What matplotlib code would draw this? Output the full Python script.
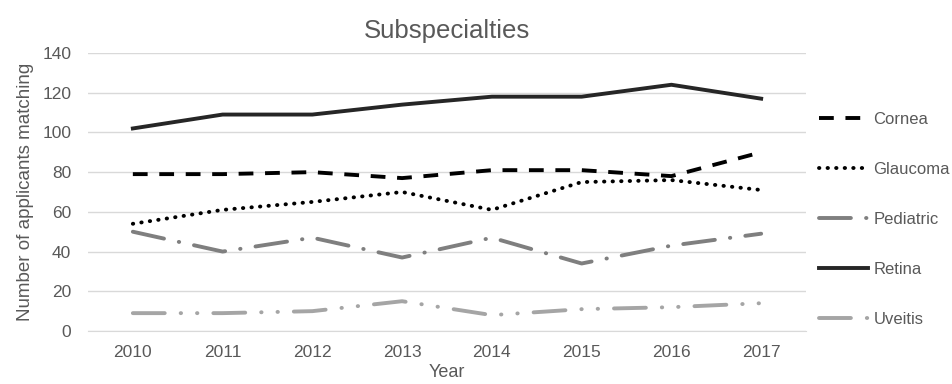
import matplotlib
matplotlib.use("Agg")
import matplotlib.pyplot as plt
import numpy as np

plt.rcParams["font.family"] = ["Liberation Sans", "DejaVu Sans"]

years = ["2010", "2011", "2012", "2013", "2014", "2015", "2016", "2017"]
cornea = [79, 79, 80, 77, 81, 81, 78, 90]
glaucoma = [54, 61, 65, 70, 61, 75, 76, 71]
pediatric = [50, 40, 47, 37, 47, 34, 43, 49]
retina = [102, 109, 109, 114, 118, 118, 124, 117]
uveitis = [9, 9, 10, 15, 8, 11, 12, 14]

TXT = "#595959"

fig = plt.figure(figsize=(9.53, 3.84), dpi=100)
ax = fig.add_axes([0.0923, 0.138, 0.7535, 0.724])

x = np.arange(len(years))
lw = 2.8
ax.plot(x, cornea, color="black", lw=lw, dashes=(3.8, 3.0), label="Cornea")
ax.plot(x, glaucoma, color="black", lw=lw, dashes=(0.1, 2.1),
        dash_capstyle="round", label="Glaucoma")
ax.plot(x, pediatric, color="#7f7f7f", lw=lw, dashes=(8.2, 3.9, 0.1, 3.9),
        dash_capstyle="round", label="Pediatric")
ax.plot(x, retina, color="#262626", lw=lw, label="Retina")
ax.plot(x, uveitis, color="#a5a5a5", lw=lw, dashes=(8.2, 4.1, 0.1, 4.1, 0.1, 4.1),
        dash_capstyle="round", label="Uveitis")

ax.set_xlim(-0.5, len(years) - 0.5)
ax.set_ylim(0, 140)
ax.set_yticks(range(0, 141, 20))
ax.set_xticks(x)
ax.set_xticklabels(years)
ax.grid(axis="y", color="#d9d9d9", lw=1)
ax.set_axisbelow(True)
for s in ["top", "right", "left"]:
    ax.spines[s].set_visible(False)
ax.spines["bottom"].set_color("#d9d9d9")
ax.tick_params(length=0, colors=TXT, labelsize=12.5)
ax.tick_params(axis="y", pad=12)
ax.tick_params(axis="x", pad=10)

ax.set_title("Subspecialties", fontsize=18.5, color=TXT, pad=11)
ax.set_xlabel("Year", fontsize=13, color=TXT, labelpad=3)
ax.set_ylabel("Number of applicants matching", fontsize=13.5, color=TXT, labelpad=6)

ax.legend(loc="center left", bbox_to_anchor=(1.0, 0.40), frameon=False,
          fontsize=12, labelcolor=TXT, handlelength=2.9, handletextpad=0.35,
          labelspacing=2.1, borderaxespad=0.4)

fig.savefig("out.png", dpi=100)
